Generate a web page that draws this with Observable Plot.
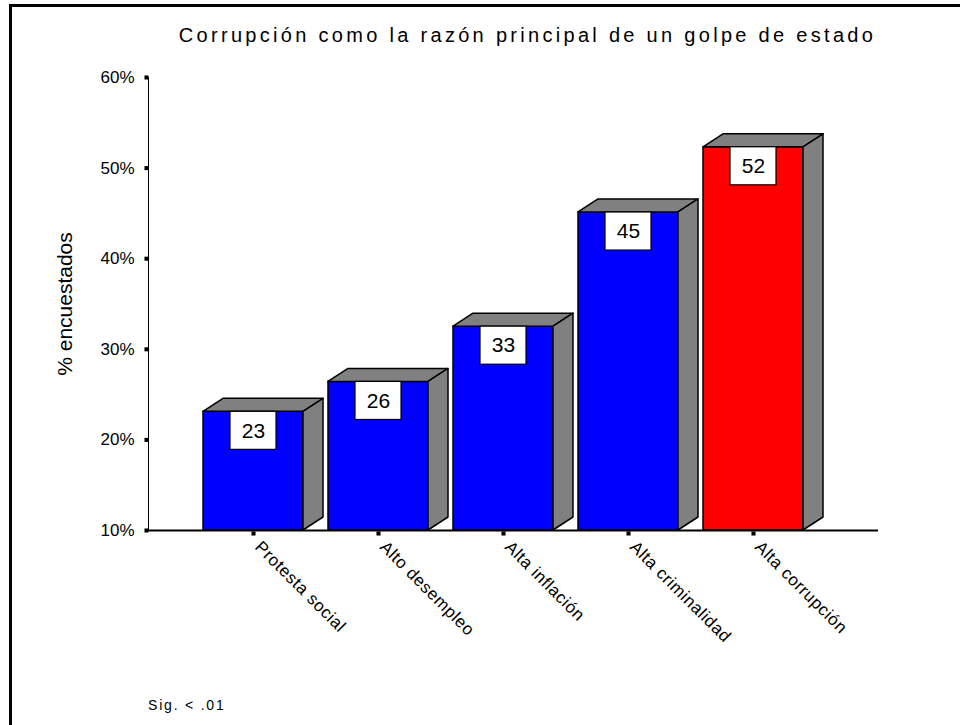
<!DOCTYPE html>
<html>
<head>
<meta charset="utf-8">
<script src="https://cdn.jsdelivr.net/npm/d3@7"></script>
<script src="https://cdn.jsdelivr.net/npm/@observablehq/plot@0.6"></script>
<style>
  body { margin: 0; background: #fff; font-family: "Liberation Sans", Arial, sans-serif; }
  #wrap { position: relative; width: 960px; height: 725px; overflow: hidden; background: #fff; }
  #border { position: absolute; left: 9px; top: 4px; width: 980px; height: 760px; border-top: 3px solid #000; border-left: 3px solid #000; box-sizing: border-box; }
  #title { position: absolute; top: 24px; left: 0; width: 1055px; text-align: center; font-size: 20px; letter-spacing: 3.3px; color: #000; white-space: nowrap; }
  #sig { position: absolute; left: 148px; top: 697px; font-size: 14px; letter-spacing: 1.8px; color: #000; }
  #chart { position: absolute; left: 0; top: 0; }
</style>
</head>
<body>
<div id="wrap">
  <div id="border"></div>
  <div id="chart"></div>
  <div id="title">Corrupción como la razón principal de un golpe de estado</div>
  <div id="sig">Sig. &lt; .01</div>
</div>
<script>
const categories = ["Protesta social", "Alto desempleo", "Alta inflación", "Alta criminalidad", "Alta corrupción"];
const values = [23.1, 26.4, 32.5, 45.1, 52.3];
const valueLabels = ["23", "26", "33", "45", "52"];
const barColors = ["#0000ff", "#0000ff", "#0000ff", "#0000ff", "#ff0000"];
const yTicks = [10, 20, 30, 40, 50, 60];
const yLabel = "% encuestados";

const data = categories.map((c, i) => ({category: c, value: values[i], label: valueLabels[i], color: barColors[i]}));

const DEPTH_X = 20, DEPTH_Y = 13;
const fontFam = "'Liberation Sans', Arial, sans-serif";

const plot = Plot.plot({
  width: 960,
  height: 725,
  marginTop: 77,
  marginBottom: 195,
  marginLeft: 148,
  marginRight: 82,
  style: {fontFamily: fontFam, fontSize: "17px", background: "transparent", color: "#000", overflow: "visible"},
  x: {domain: categories, paddingInner: 0.2, paddingOuter: 0.52, align: 0.423, axis: null},
  y: {domain: [10, 60], ticks: yTicks, tickFormat: d => d + "%", tickSize: 0, tickPadding: 14, line: true, label: null},
  marks: [
    Plot.barY(data, {x: "category", y1: 10, y2: "value", fill: "color", stroke: "#000", strokeWidth: 1.5}),
    Plot.ruleY([10], {stroke: "#000", strokeWidth: 2}),
    Plot.rect(data, {x: "category", y1: "value", y2: d => d.value - 4.2, fill: "#fff", stroke: "#000", strokeWidth: 1.2, insetLeft: 27, insetRight: 27}),
    Plot.text(data, {x: "category", y: d => d.value - 2.1, text: "label", fontSize: 21, lineAnchor: "middle", fill: "#000"}),
    Plot.dot(yTicks, {y: d => d, frameAnchor: "left", dx: -2, symbol: "square", r: 2.3, fill: "#000", stroke: "none"}),
    Plot.dot(categories, {x: d => d, frameAnchor: "bottom", dy: 3, symbol: "square", r: 2.3, fill: "#000", stroke: "none"}),
    Plot.text(categories, {x: d => d, frameAnchor: "bottom", rotate: 45, textAnchor: "start", lineAnchor: "top", dx: 9, dy: 9, fontSize: 17, fill: "#000", style: "letter-spacing:0.6px"}),
    Plot.text([yLabel], {frameAnchor: "left", rotate: -90, textAnchor: "middle", dx: -83, fontSize: 21, fill: "#000"})
  ]
});

document.getElementById("chart").appendChild(plot);

// letter spacing for rotated category labels
d3.select(plot).selectAll('g[aria-label="text"]').filter((_, i) => i === 1).style("letter-spacing", "0.6px");

// 3D top and side faces, positioned through Plot's own scales
const sx = plot.scale("x"), sy = plot.scale("y");
const bw = sx.bandwidth;
const y0 = sy.apply(10);
const barGroup = plot.querySelector('g[aria-label="bar"]');
const faces = document.createElementNS("http://www.w3.org/2000/svg", "g");
barGroup.after(faces);
const fg = d3.select(faces);
data.forEach(d => {
  const x1 = sx.apply(d.category), x2 = x1 + bw, yt = sy.apply(d.value);
  const top = [[x1, yt], [x2, yt], [x2 + DEPTH_X, yt - DEPTH_Y], [x1 + DEPTH_X, yt - DEPTH_Y]];
  const side = [[x2, yt], [x2 + DEPTH_X, yt - DEPTH_Y], [x2 + DEPTH_X, y0 - DEPTH_Y], [x2, y0]];
  [top, side].forEach(p => fg.append("polygon")
    .attr("points", p.map(q => q.join(",")).join(" "))
    .attr("fill", "#808080").attr("stroke", "#000").attr("stroke-width", 1.5).attr("stroke-linejoin", "round"));
});
</script>
</body>
</html>
